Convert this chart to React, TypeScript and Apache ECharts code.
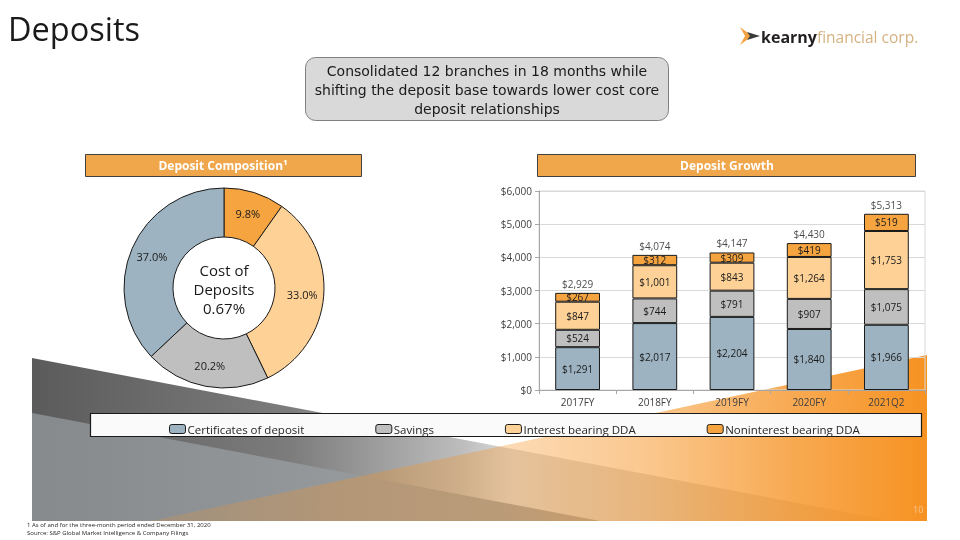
import React, { useEffect, useRef } from "react";
import * as echarts from "echarts";

// ---- data ----
const categories = ["2017FY", "2018FY", "2019FY", "2020FY", "2021Q2"];
const certificates = [1291, 2017, 2204, 1840, 1966];
const savings = [524, 744, 791, 907, 1075];
const interestDDA = [847, 1001, 843, 1264, 1753];
const nonInterestDDA = [267, 312, 309, 419, 519];
const totals = [2929, 4074, 4147, 4430, 5313];

const compositionNames = ["Noninterest bearing DDA", "Interest bearing DDA", "Savings", "Certificates of deposit"];
const compositionValues = [9.8, 33.0, 20.2, 37.0];

const legendNames = ["Certificates of deposit", "Savings", "Interest bearing DDA", "Noninterest bearing DDA"];

const yMin = 0;
const yMax = 6000;
const yInterval = 1000;

// ---- styles ----
const FONT = "'Open Sans', 'Liberation Sans', sans-serif";
const CALLOUT_FONT = "'DejaVu Sans', 'Open Sans', sans-serif";
const C_CD = "#9db3c1";
const C_SAV = "#bfbfbf";
const C_INT = "#fed196";
const C_NON = "#f5a440";
const colorByName: Record<string, string> = {
  "Certificates of deposit": C_CD,
  Savings: C_SAV,
  "Interest bearing DDA": C_INT,
  "Noninterest bearing DDA": C_NON,
};

const money = (v: number) => "$" + v.toLocaleString("en-US");

export default function App() {
  const ref = useRef<HTMLDivElement>(null);
  useEffect(() => {
    if (!ref.current) return;
    const chart = echarts.init(ref.current, undefined, { renderer: "svg" });

    const barSeries = [
      { name: "Certificates of deposit", data: certificates },
      { name: "Savings", data: savings },
      { name: "Interest bearing DDA", data: interestDDA },
      { name: "Noninterest bearing DDA", data: nonInterestDDA },
    ].map((s) => ({
      type: "bar",
      name: s.name,
      stack: "dep",
      data: s.data,
      barWidth: "58%",
      itemStyle: { color: colorByName[s.name], borderColor: "#1a1a1a", borderWidth: 1 },
      label: {
        show: true,
        position: "inside",
        formatter: (p: any) => money(p.value),
        fontFamily: FONT,
        fontSize: 10,
        color: "#1a1a1a",
      },
      emphasis: { disabled: true },
    }));

    const orangeGrad = new echarts.graphic.LinearGradient(0, 0, 1, 0, [
      { offset: 0, color: "rgba(246,146,34,0.18)" },
      { offset: 0.23, color: "rgba(246,146,34,0.3)" },
      { offset: 0.45, color: "rgba(246,146,34,0.33)" },
      { offset: 0.63, color: "rgba(246,146,34,0.5)" },
      { offset: 0.84, color: "rgba(246,146,34,0.8)" },
      { offset: 1, color: "rgba(246,146,34,1)" },
    ]);
    const darkGrayGrad = new echarts.graphic.LinearGradient(0, 0, 1, 0, [
      { offset: 0, color: "#5b5b5b" },
      { offset: 0.3, color: "#7c7c7c" },
      { offset: 0.5, color: "#bdbdbd" },
      { offset: 0.56, color: "#dcdcdc" },
      { offset: 1, color: "#d6d6d6" },
    ]);
    const midGrayGrad = new echarts.graphic.LinearGradient(0, 0, 1, 0, [
      { offset: 0, color: "#868a8d" },
      { offset: 1, color: "#a2a5a8" },
    ]);

    chart.setOption({
      animation: false,
      textStyle: { fontFamily: FONT },
      graphic: [
        // background decoration
        { type: "polygon", z: -5, silent: true, shape: { points: [[32, 358], [893, 521], [32, 521]] }, style: { fill: darkGrayGrad } },
        { type: "polygon", z: -4, silent: true, shape: { points: [[32, 413], [600, 521], [32, 521]] }, style: { fill: midGrayGrad } },
        { type: "polygon", z: -3, silent: true, shape: { points: [[927, 355], [927, 521], [151, 521]] }, style: { fill: orangeGrad } },
        // title
        { type: "text", x: 8, y: 28, style: { text: "Deposits", fontFamily: FONT, fontSize: 32.5, fill: "#1a1a1a", textVerticalAlign: "middle" } },
        // logo
        { type: "polygon", shape: { points: [[740, 27], [752, 36], [740, 45], [745, 36]] }, style: { fill: "#f2a341" } },
        { type: "polygon", shape: { points: [[747, 32], [760, 36], [747, 40], [750, 36]] }, style: { fill: "#3a3a3a" } },
        {
          type: "text",
          x: 761,
          y: 37,
          style: {
            text: "{b|kearny}{l|financial corp.}",
            textVerticalAlign: "middle",
            rich: {
              b: { fontFamily: FONT, fontSize: 16, fontWeight: "bold", fill: "#231f20", color: "#231f20" },
              l: { fontFamily: FONT, fontSize: 15.5, fill: "#d5b281", color: "#d5b281" },
            },
          },
        },
        // callout
        { type: "rect", z: 5, shape: { x: 305.5, y: 57.5, width: 363, height: 63, r: 10 }, style: { fill: "#d9d9d9", stroke: "#808080", lineWidth: 1 } },
        {
          type: "text",
          z: 6,
          x: 487,
          y: 90,
          style: {
            text: "Consolidated 12 branches in 18 months while\nshifting the deposit base towards lower cost core\ndeposit relationships",
            fontFamily: CALLOUT_FONT,
            fontSize: 14,
            lineHeight: 19,
            fill: "#1a1a1a",
            textAlign: "center",
            textVerticalAlign: "middle",
          },
        },
        // section headers
        { type: "rect", z: 5, shape: { x: 85.5, y: 154.5, width: 276, height: 22 }, style: { fill: "#f0a64a", stroke: "#404040", lineWidth: 1 } },
        { type: "text", z: 6, x: 223, y: 165.5, style: { text: "Deposit Composition¹", fontFamily: FONT, fontSize: 12, fontWeight: "bold", fill: "#ffffff", textAlign: "center", textVerticalAlign: "middle" } },
        { type: "rect", z: 5, shape: { x: 537.5, y: 154.5, width: 378, height: 22 }, style: { fill: "#f0a64a", stroke: "#404040", lineWidth: 1 } },
        { type: "text", z: 6, x: 727, y: 165.5, style: { text: "Deposit Growth", fontFamily: FONT, fontSize: 12, fontWeight: "bold", fill: "#ffffff", textAlign: "center", textVerticalAlign: "middle" } },
        // donut centre text
        {
          type: "text",
          z: 6,
          x: 224,
          y: 289,
          style: { text: "Cost of\nDeposits\n0.67%", fontFamily: FONT, fontSize: 15, lineHeight: 19, fill: "#1a1a1a", textAlign: "center", textVerticalAlign: "middle" },
        },
        // legend box
        { type: "rect", z: 1, shape: { x: 90.5, y: 413.5, width: 831, height: 23 }, style: { fill: "#fafafa", stroke: "#1a1a1a", lineWidth: 1.2 } },
        // page number & footnotes
        { type: "text", x: 913, y: 509, style: { text: "10", fontFamily: FONT, fontSize: 9, fill: "#f6c590", textVerticalAlign: "middle" } },
        { type: "text", x: 27, y: 525, style: { text: "1 As of and for the three-month period ended December 31, 2020", fontFamily: FONT, fontSize: 6, fill: "#262626", textVerticalAlign: "middle" } },
        { type: "text", x: 27, y: 533, style: { text: "Source: S&P Global Market Intelligence & Company Filings", fontFamily: FONT, fontSize: 6, fill: "#262626", textVerticalAlign: "middle" } },
      ],
      legend: {
        data: legendNames,
        left: 164,
        top: 418,
        itemGap: 71,
        itemWidth: 16,
        itemHeight: 9,
        icon: "roundRect",
        itemStyle: { borderColor: "#1a1a1a", borderWidth: 1 },
        textStyle: { fontFamily: FONT, fontSize: 11.5, color: "#262626", padding: [0, 0, 0, -3] },
        selectedMode: false,
        z: 6,
      },
      grid: {
        left: 539,
        right: 35,
        top: 191,
        bottom: 150,
        show: true,
        borderColor: "#d9d9d9",
        borderWidth: 1,
        backgroundColor: "transparent",
      },
      xAxis: {
        type: "category",
        data: categories,
        axisLine: { lineStyle: { color: "#a6a6a6" } },
        axisTick: { show: true, length: 4, lineStyle: { color: "#a6a6a6" } },
        axisLabel: { fontFamily: FONT, fontSize: 10, color: "#404040", margin: 7 },
      },
      yAxis: {
        type: "value",
        min: yMin,
        max: yMax,
        interval: yInterval,
        axisLine: { show: true, lineStyle: { color: "#a6a6a6" } },
        axisTick: { show: true, length: 4, lineStyle: { color: "#a6a6a6" } },
        splitLine: { lineStyle: { color: "#d9d9d9" } },
        axisLabel: { fontFamily: FONT, fontSize: 10, color: "#404040", margin: 7, formatter: (v: number) => money(v) },
      },
      series: [
        ...barSeries,
        {
          type: "scatter",
          name: "Total",
          data: totals,
          symbolSize: 0,
          silent: true,
          z: 5,
          label: {
            show: true,
            position: "top",
            distance: 4,
            formatter: (p: any) => money(p.value),
            fontFamily: FONT,
            fontSize: 10,
            color: "#1a1a1a",
          },
        },
        {
          type: "pie",
          name: "Deposit Composition",
          center: [224, 288],
          radius: [51, 100],
          startAngle: 90,
          clockwise: true,
          silent: true,
          data: compositionNames.map((n, i) => ({
            name: n,
            value: compositionValues[i],
            itemStyle: { color: colorByName[n] },
          })),
          itemStyle: { borderColor: "#1a1a1a", borderWidth: 1 },
          label: {
            show: true,
            position: "inside",
            formatter: (p: any) => p.value.toFixed(1) + "%",
            fontFamily: FONT,
            fontSize: 11,
            color: "#1a1a1a",
          },
          labelLine: { show: false },
        },
      ],
    });
    return () => chart.dispose();
  }, []);
  return <div ref={ref} style={{ position: "fixed", left: 0, top: 0, width: 960, height: 540 }} />;
}
